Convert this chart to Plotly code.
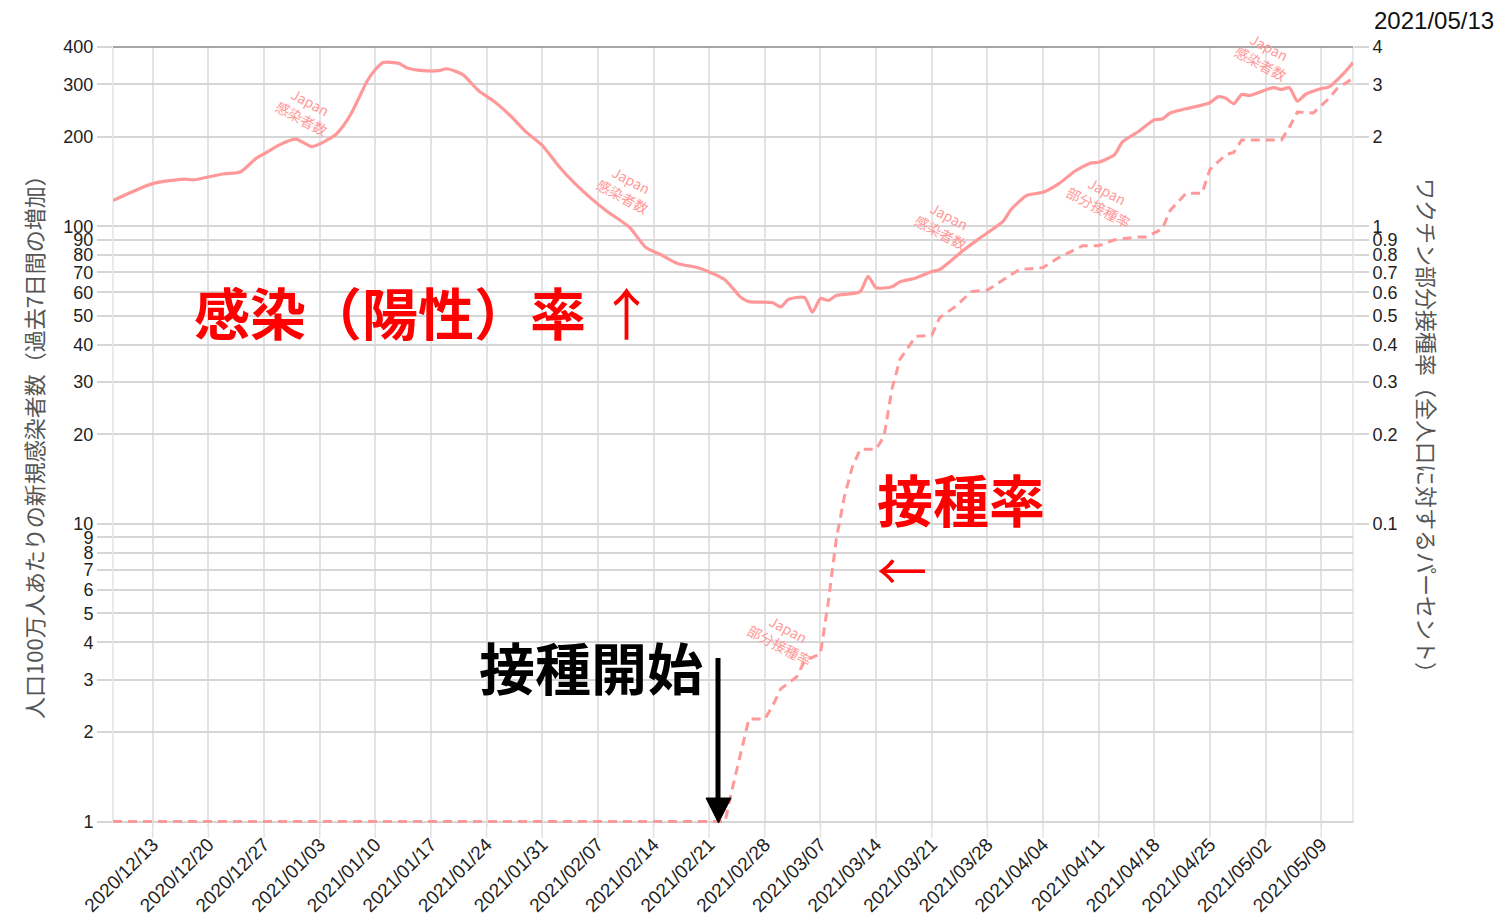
import math
import plotly.graph_objects as go

# ---------------- data ----------------
inf_dates = ["2020-12-08", "2020-12-13", "2020-12-17", "2020-12-18", "2020-12-22", "2020-12-24",
             "2020-12-26", "2020-12-27", "2020-12-29", "2020-12-31", "2021-01-02", "2021-01-03",
             "2021-01-05", "2021-01-06", "2021-01-07", "2021-01-08", "2021-01-09", "2021-01-10",
             "2021-01-11", "2021-01-13", "2021-01-14", "2021-01-16", "2021-01-18", "2021-01-19",
             "2021-01-21", "2021-01-23", "2021-01-25", "2021-01-27", "2021-01-29", "2021-01-31",
             "2021-02-02", "2021-02-04", "2021-02-06", "2021-02-08", "2021-02-11", "2021-02-13",
             "2021-02-15", "2021-02-17", "2021-02-20", "2021-02-23", "2021-02-25", "2021-02-26",
             "2021-03-01", "2021-03-02", "2021-03-03", "2021-03-05", "2021-03-06", "2021-03-07",
             "2021-03-08", "2021-03-09", "2021-03-10", "2021-03-12", "2021-03-13", "2021-03-14",
             "2021-03-16", "2021-03-17", "2021-03-19", "2021-03-21", "2021-03-22", "2021-03-25",
             "2021-03-27", "2021-03-30", "2021-03-31", "2021-04-02", "2021-04-04", "2021-04-06",
             "2021-04-08", "2021-04-10", "2021-04-11", "2021-04-13", "2021-04-14", "2021-04-16",
             "2021-04-18", "2021-04-19", "2021-04-20", "2021-04-22", "2021-04-25", "2021-04-26",
             "2021-04-27", "2021-04-28", "2021-04-29", "2021-04-30", "2021-05-03", "2021-05-04",
             "2021-05-05", "2021-05-06", "2021-05-07", "2021-05-09", "2021-05-10", "2021-05-12",
             "2021-05-13"]
inf_values = [122, 139, 144, 143, 150, 152,
              169, 175, 188, 196, 185, 189,
              203, 218, 240, 272, 308, 336,
              355, 352, 340, 333, 333, 338,
              323, 285, 262, 235, 207, 187,
              160, 140, 125, 113, 99, 85,
              80, 75, 72, 66, 57.6, 55.8,
              55.3, 53.6, 56.8, 57.6, 51.4, 57.2,
              56.3, 58.5, 59, 60.3, 67.9, 62.1,
              62.6, 65, 67, 70.4, 71.5, 83,
              91, 104, 114, 127, 130, 139,
              153, 163, 164, 174, 192, 208,
              228, 229, 240, 248, 260, 272,
              269, 258, 277, 275, 292, 288,
              292, 263, 277, 290, 294, 330,
              355]

vac_dates = ["2020-12-08", "2021-02-23", "2021-02-24", "2021-02-26", "2021-02-28", "2021-03-01",
             "2021-03-02", "2021-03-04", "2021-03-05", "2021-03-07", "2021-03-08", "2021-03-09",
             "2021-03-10", "2021-03-11", "2021-03-12", "2021-03-14", "2021-03-15", "2021-03-16",
             "2021-03-17", "2021-03-19", "2021-03-21", "2021-03-22", "2021-03-24", "2021-03-26",
             "2021-03-28", "2021-03-30", "2021-04-01", "2021-04-04", "2021-04-06", "2021-04-09",
             "2021-04-11", "2021-04-13", "2021-04-16", "2021-04-17", "2021-04-19", "2021-04-20",
             "2021-04-22", "2021-04-24", "2021-04-25", "2021-04-27", "2021-04-28", "2021-04-29",
             "2021-05-04", "2021-05-05", "2021-05-06", "2021-05-08", "2021-05-10", "2021-05-11",
             "2021-05-13"]
vac_values = [0.01, 0.01, 0.0132, 0.0221, 0.0221, 0.0245,
              0.0279, 0.0306, 0.0346, 0.0366, 0.055, 0.089,
              0.123, 0.155, 0.178, 0.178, 0.197, 0.284,
              0.357, 0.427, 0.43, 0.493, 0.538, 0.603,
              0.61, 0.66, 0.715, 0.726, 0.785, 0.86,
              0.86, 0.90, 0.92, 0.92, 0.98, 1.13,
              1.29, 1.29, 1.55, 1.74, 1.77, 1.95,
              1.95, 2.15, 2.42, 2.40, 2.69, 2.90,
              3.14]

x_ticks = ["2020-12-13", "2020-12-20", "2020-12-27", "2021-01-03", "2021-01-10", "2021-01-17",
           "2021-01-24", "2021-01-31", "2021-02-07", "2021-02-14", "2021-02-21", "2021-02-28",
           "2021-03-07", "2021-03-14", "2021-03-21", "2021-03-28", "2021-04-04", "2021-04-11",
           "2021-04-18", "2021-04-25", "2021-05-02", "2021-05-09"]
x_tick_text = [d.replace("-", "/") for d in x_ticks]
y_ticks = [1, 2, 3, 4, 5, 6, 7, 8, 9, 10, 20, 30, 40, 50, 60, 70, 80, 90, 100, 200, 300, 400]
y2_ticks = [0.1, 0.2, 0.3, 0.4, 0.5, 0.6, 0.7, 0.8, 0.9, 1, 2, 3, 4]

x_range = ["2020-12-08", "2021-05-13"]
current_date = "2021/05/13"

# ---------------- styling ----------------
OFF = 8                      # page body margin
SW, SH = 1508, 923           # screen size
PL, PT, PR, PB = 113, 47, 1353, 823   # plot area in screen pixels
W, H = SW - OFF, SH - OFF
L, T = PL - OFF, PT - OFF
R, B = W - (PR - OFF), H - (PB - OFF)
PW, PH = PR - PL, PB - PT
LINE = "#ff9999"
GRID_V = "#e3e3e3"
GRID_H = "#d6d6d6"
NUM_FONT = "Liberation Sans, Arial, sans-serif"
JP_FONT = "Noto Sans CJK JP, sans-serif"


def px_x(x):
    return (x - PL) / PW


def px_y(y):
    return (PB - y) / PH


fig = go.Figure()
fig.add_trace(go.Scatter(x=inf_dates, y=inf_values, mode="lines", yaxis="y",
                         line=dict(color=LINE, width=3.2, shape="spline", smoothing=0.6),
                         hoverinfo="skip", showlegend=False))
fig.add_trace(go.Scatter(x=vac_dates, y=vac_values, mode="lines", yaxis="y2",
                         line=dict(color=LINE, width=3, dash="9px,6px"),
                         hoverinfo="skip", showlegend=False))

EPS = 0.005
fig.update_layout(
    width=W, height=H,
    margin=dict(l=L, r=R, t=T, b=B, pad=0, autoexpand=False),
    paper_bgcolor="white", plot_bgcolor="white",
    xaxis=dict(type="date", range=x_range, tickvals=x_ticks, ticktext=x_tick_text,
               tickangle=-45, showgrid=True, gridcolor=GRID_V, gridwidth=1.5,
               ticks="outside", ticklen=2, tickcolor=GRID_V, tickwidth=1.5,
               tickfont=dict(family=NUM_FONT, size=19, color="#222"),
               showline=False, zeroline=False, automargin=False),
    yaxis=dict(type="log", range=[-EPS, math.log10(400)], tickvals=y_ticks,
               ticktext=[str(v) for v in y_ticks], showgrid=True, gridcolor=GRID_H,
               gridwidth=1.5, ticks="outside", ticklen=15, tickcolor=GRID_H, tickwidth=1.5,
               tickfont=dict(family=NUM_FONT, size=18, color="#222"),
               zeroline=False, showline=False, automargin=False),
    yaxis2=dict(type="log", range=[-2 - EPS, math.log10(4)], tickvals=y2_ticks,
                ticktext=[("%g" % v) for v in y2_ticks], overlaying="y", side="right",
                showgrid=False, ticks="outside", ticklen=15, tickcolor=GRID_H, tickwidth=1.5,
                tickfont=dict(family=NUM_FONT, size=18, color="#222"),
                zeroline=False, showline=False, automargin=False),
)

shapes = [
    dict(type="line", xref="paper", yref="paper", x0=0, x1=1, y0=1, y1=1,
         line=dict(color="#888", width=1.5)),
    dict(type="line", xref="paper", yref="paper", x0=0, x1=0, y0=0, y1=1,
         line=dict(color=GRID_V, width=1.5), layer="below"),
    dict(type="line", xref="paper", yref="paper", x0=1, x1=1, y0=0, y1=1,
         line=dict(color=GRID_V, width=1.5), layer="below"),
    dict(type="line", xref="x", yref="paper", x0=x_ticks[0], x1=x_ticks[0], y0=0, y1=1,
         line=dict(color="#b0b0b0", width=1.5), layer="below"),
    # black arrow (vaccination start)
    dict(type="line", xref="paper", yref="paper", x0=px_x(718), x1=px_x(718),
         y0=px_y(658), y1=px_y(800), line=dict(color="black", width=5)),
    dict(type="path", xref="paper", yref="paper",
         path="M %f %f L %f %f L %f %f Z" % (px_x(706), px_y(798), px_x(731), px_y(798),
                                               px_x(718.5), px_y(823)),
         fillcolor="black", line=dict(color="black", width=1)),
]
# longer x tick marks below the plot
for t in x_ticks:
    shapes.append(dict(type="line", xref="x", yref="paper", x0=t, x1=t, y0=0, y1=-15 / PH,
                       line=dict(color=GRID_V, width=1.5), layer="below"))
fig.update_layout(shapes=shapes)

ann = []
base = dict(xref="paper", yref="paper", showarrow=False, xanchor="center", yanchor="middle")
for (cx, cy, txt) in [(306, 110, "Japan<br>感染者数"), (627, 188, "Japan<br>感染者数"),
                      (945, 224, "Japan<br>感染者数"), (1265, 55, "Japan<br>感染者数"),
                      (784, 637, "Japan<br>部分接種率"), (1103, 199, "Japan<br>部分接種率")]:
    ann.append(dict(x=px_x(cx), y=px_y(cy), text=txt, textangle=28,
                    font=dict(family=JP_FONT, size=14, color=LINE), **base))

ann.append(dict(x=px_x(425), y=px_y(310), text="<b>感染（陽性）率</b> ↑",
                font=dict(family=JP_FONT, size=56, color="#ff0000"), **base))
ann.append(dict(x=px_x(961), y=px_y(498), text="<b>接種率</b>",
                font=dict(family=JP_FONT, size=56, color="#ff0000"), **base))
ann.append(dict(x=px_x(902), y=px_y(568), text="←",
                font=dict(family=JP_FONT, size=50, color="#ff0000"), **base))
ann.append(dict(x=px_x(591), y=px_y(665), text="<b>接種開始</b>",
                font=dict(family=JP_FONT, size=56, color="black"), **base))
ann.append(dict(x=px_x(1434), y=px_y(21), text=current_date,
                font=dict(family=NUM_FONT, size=24, color="#111"), **base))
ann.append(dict(x=px_x(33), y=px_y(442), textangle=-90,
                text="人口100万人あたりの新規感染者数（過去7日間の増加）",
                font=dict(family=JP_FONT, size=22, color="#555"), **base))
ann.append(dict(x=px_x(1428), y=px_y(431), textangle=90,
                text="ワクチン部分接種率（全人口に対するパーセント）",
                font=dict(family=JP_FONT, size=22, color="#555"), **base))
fig.update_layout(annotations=ann)

fig.write_html("out.html")
